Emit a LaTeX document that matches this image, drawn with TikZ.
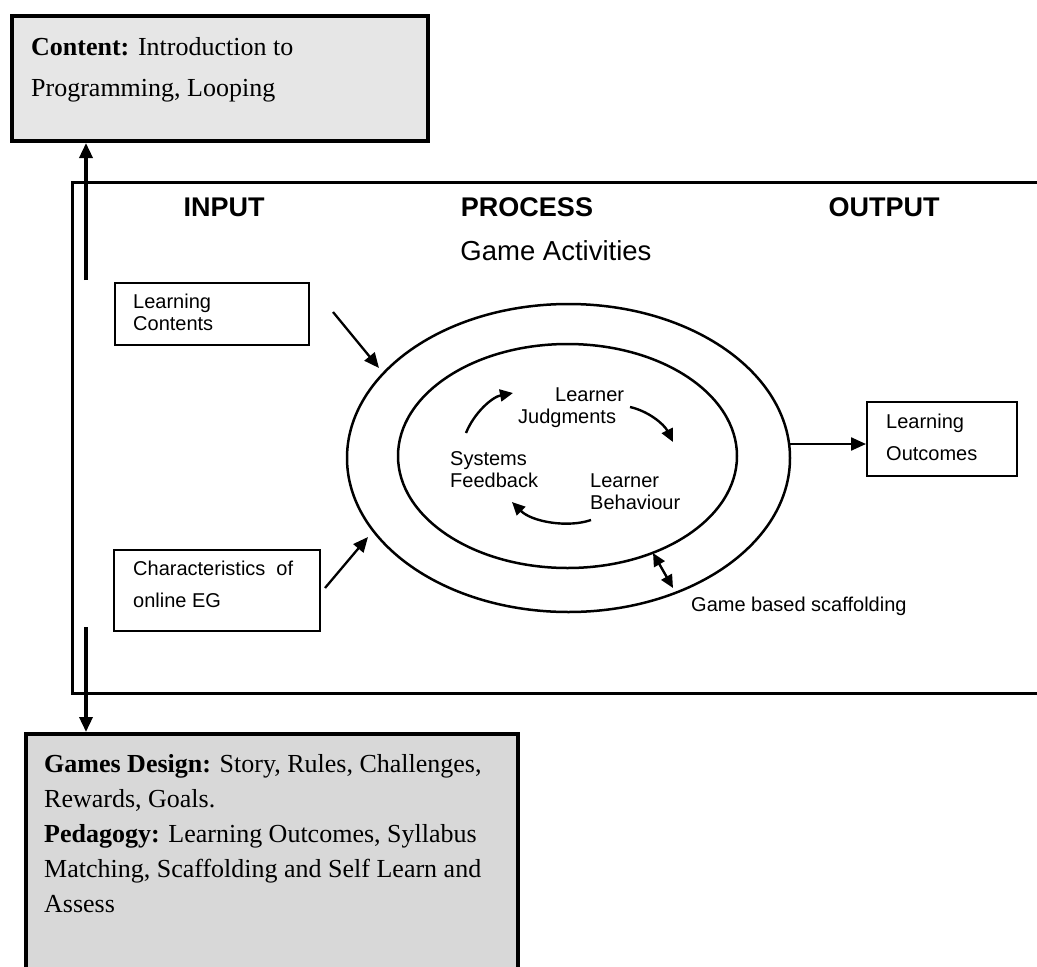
\documentclass[tikz,border=0pt]{standalone}
\usepackage{fontspec}
\setmainfont{Liberation Serif}
\setsansfont{Liberation Sans}
\usetikzlibrary{arrows.meta,shapes.geometric}
\definecolor{topgray}{HTML}{E6E6E6}
\definecolor{botgray}{HTML}{D8D8D8}
\begin{document}
\begin{tikzpicture}[x=1pt,y=-1pt,
  thickbox/.style={draw, line width=4pt, inner sep=0pt},
  thinbox/.style={draw, line width=2.4pt, inner sep=0pt},
  framebox/.style={draw, line width=2.6pt, inner sep=0pt},
  ell/.style={draw, ellipse, line width=2.5pt, inner sep=0pt},
  serifA/.style={font=\fontsize{26}{41.5}\selectfont, inner sep=0pt, align=left},
  serifB/.style={font=\fontsize{26}{35}\selectfont, inner sep=0pt, align=left},
  head/.style={font=\sffamily\bfseries\fontsize{27}{30}\selectfont, inner sep=0pt},
  sub/.style={font=\sffamily\fontsize{27.5}{30}\selectfont, inner sep=0pt},
  lbl/.style={font=\sffamily\fontsize{20}{22}\selectfont, inner sep=0pt, align=left},
  lblw/.style={font=\sffamily\fontsize{20}{32}\selectfont, inner sep=0pt, align=left},
  bigarr/.style={line width=3.4pt, -{Triangle[length=15pt,width=13pt]}},
  arr/.style={line width=2.3pt, -{Triangle[length=15pt,width=13pt]}},
  carr/.style={line width=2.4pt, -{Triangle[length=13pt,width=12pt]}},
  darr/.style={line width=2.4pt, {Triangle[length=13pt,width=12pt]}-{Triangle[length=13pt,width=12pt]}}
]
\useasboundingbox (0,0) rectangle (1037,967);
\clip (0,0) rectangle (1037,967);

% main frame (cut at right edge)
\node[framebox, minimum width=1000pt, minimum height=511pt, anchor=north west] (frame) at (71,181) {};

% top content box
\node[thickbox, fill=topgray, minimum width=416pt, minimum height=125pt, anchor=north west] (content) at (10,14) {};
\node[serifA, anchor=base west] (contentT) at (31,96.5) {\textbf{Content:} Introduction to\\Programming, Looping};

% bottom design box
\node[thickbox, fill=botgray, minimum width=492pt, minimum height=300pt, anchor=north west] (design) at (24,732) {};
\node[serifB, anchor=base west] (designT) at (44,912) {\textbf{Games Design:} Story, Rules, Challenges,\\Rewards, Goals.\\\textbf{Pedagogy:} Learning Outcomes, Syllabus\\Matching, Scaffolding and Self Learn and\\Assess};

% headings
\node[head, anchor=base] (input) at (224,216) {INPUT};
\node[head, anchor=base] (process) at (527,216) {PROCESS};
\node[head, anchor=base] (output) at (884,216) {OUTPUT};
\node[sub, anchor=base] (activities) at (556,260) {Game Activities};

% input boxes
\node[thinbox, minimum width=194pt, minimum height=62pt, anchor=north west] (lc) at (114,282) {};
\node[lbl, anchor=base west] (lcT) at (133,330) {Learning\\Contents};
\node[thinbox, minimum width=206pt, minimum height=81pt, anchor=north west] (ch) at (113,549) {};
\node[lblw, anchor=base west] (chT) at (133,607) {Characteristics\hspace{11pt}of\\online EG};

% output box
\node[thinbox, minimum width=150pt, minimum height=74pt, anchor=north west] (lo) at (866,401) {};
\node[lblw, anchor=base west] (loT) at (886,460) {Learning\\Outcomes};

% ellipses
\node[ell, minimum width=443pt, minimum height=308pt] (outer) at (568.5,458) {};
\node[ell, minimum width=339pt, minimum height=224pt] (inner) at (567.5,456) {};

% inner labels
\node[lbl, anchor=base west] (judg) at (518,423) {\hspace*{37pt}Learner\\Judgments};
\node[lbl, anchor=base west] (feed) at (450,487.5) {Systems\\Feedback};
\node[lbl, anchor=base west] (behav) at (590,509) {Learner\\Behaviour};
\node[lbl, anchor=base west] (scaf) at (691,611) {Game based scaffolding};

% connector end points
\coordinate (topA) at (86,280);
\coordinate (botA) at (86,627);
\coordinate (lcA) at (333,312);
\coordinate (lcB) at (379,368);
\coordinate (chA) at (325,588);
\coordinate (chB) at (368,537);
\coordinate (outA) at (790,444);
\coordinate (scA) at (653,553);
\coordinate (scB) at (673,588);
\coordinate (c1a) at (466,433);
\coordinate (c1b) at (513,393);
\coordinate (c2a) at (630,407);
\coordinate (c2b) at (673,442);
\coordinate (c3a) at (591,520);
\coordinate (c3b) at (512,502);

% connectors
\draw[bigarr] (topA) -- (topA |- content.south);
\draw[bigarr] (botA) -- (botA |- design.north);
\draw[arr] (lcA) -- (lcB);
\draw[arr] (chA) -- (chB);
\draw[arr] (outA) -- (outA -| lo.west);
\draw[darr] (scA) -- (scB);
\draw[carr] (c1a) .. controls (474,413) and (492,397) .. (c1b);
\draw[carr] (c2a) .. controls (648,411) and (664,424) .. (c2b);
\draw[carr] (c3a) .. controls (568,528) and (532,522) .. (c3b);
\end{tikzpicture}
\end{document}
